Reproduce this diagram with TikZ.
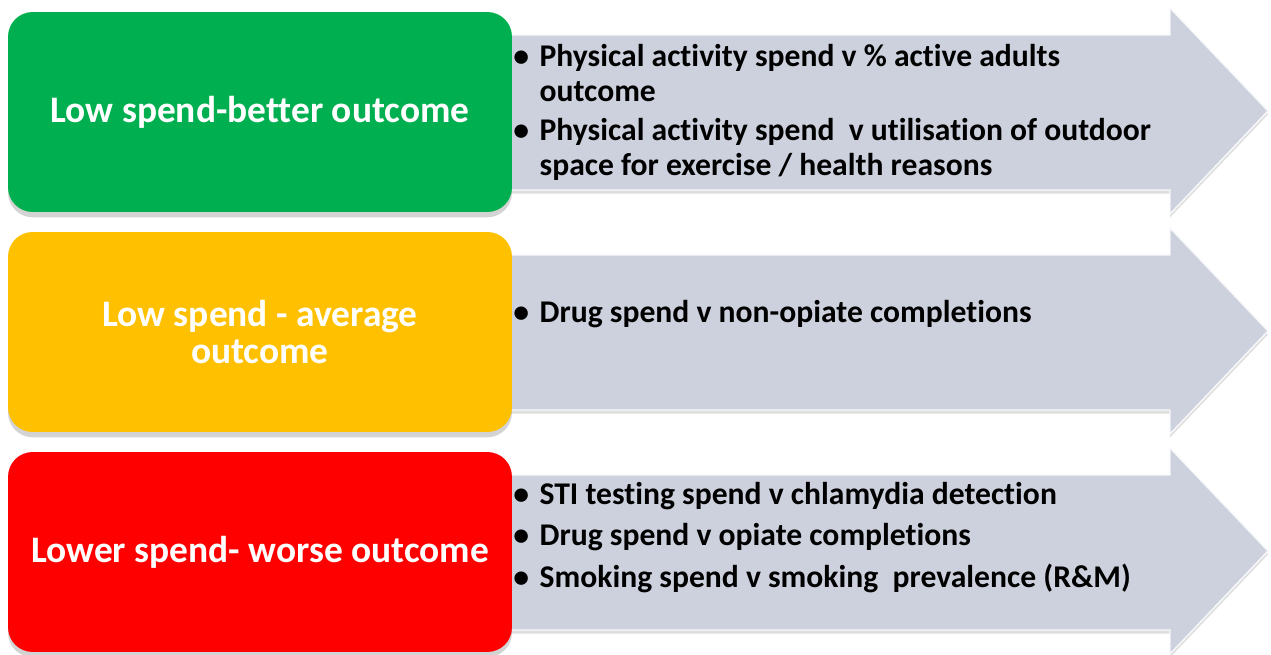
\documentclass[tikz,border=0pt]{standalone}
\usepackage{fontspec}
\setmainfont{Carlito}[Ligatures=NoCommon]
\usetikzlibrary{shadows}
\definecolor{boxgreen}{RGB}{0,176,80}
\definecolor{boxyellow}{RGB}{255,192,0}
\definecolor{boxred}{RGB}{255,0,0}
\definecolor{arrowgrey}{RGB}{204,209,221}
\begin{document}
\begin{tikzpicture}[x=0.02cm, y=-0.02cm,
	spendbox/.style = { rounded corners=14pt, minimum width=10.08cm, minimum height=4cm,
		text=white, align=center, font=\fontsize{21.3}{21.5}\selectfont\bfseries,
		drop shadow={shadow xshift=0pt, shadow yshift=-3pt, opacity=0.35} },
	bigarrow/.style = { fill=arrowgrey, draw=white!85!arrowgrey, line width=0.8pt,
		drop shadow={shadow xshift=0pt, shadow yshift=-2pt, opacity=0.25} },
	itemlist/.style = { anchor=west, align=left, inner sep=0pt,
		font=\fontsize{18}{19.8}\selectfont\bfseries }]
	\useasboundingbox (0,0) rectangle (1271,655);
	% grey arrows
	\path[bigarrow] (490,35) -- (1170,35) -- (1170,8) -- (1268,111) -- (1170,214) -- (1170,190) -- (490,190) -- cycle;
	\path[bigarrow] (490,255) -- (1170,255) -- (1170,228) -- (1268,331) -- (1170,434) -- (1170,410) -- (490,410) -- cycle;
	\path[bigarrow] (490,475) -- (1170,475) -- (1170,448) -- (1268,551) -- (1170,654) -- (1170,630) -- (490,630) -- cycle;
	% coloured boxes
	\node [spendbox, fill=boxgreen] (better) at (260,112) {Low spend-better outcome};
	\node [spendbox, fill=boxyellow] (average) at (260,332) {Low spend - average\\outcome};
	\node [spendbox, fill=boxred] (worse) at (260,552) {Lower spend- worse outcome};
	% lists
	\node [itemlist] (betterlist) at (513,114) {
		\begin{tabular}{@{}l@{\hskip 6pt}l@{}}
			\textbullet & Physical activity spend v \% active adults\\
			 & outcome\\[2.8pt]
			\textbullet & Physical activity spend\ \ v utilisation of outdoor\\
			 & space for exercise / health reasons
		\end{tabular} };
	\node [itemlist] (averagelist) at (513,316) {
		\begin{tabular}{@{}l@{\hskip 6pt}l@{}}
			\textbullet & Drug spend v non-opiate completions
		\end{tabular} };
	\node [itemlist] (worselist) at (513,539) {
		\begin{tabular}{@{}l@{\hskip 6pt}l@{}}
			\textbullet & STI testing spend v chlamydia detection\\[4pt]
			\textbullet & Drug spend v opiate completions\\[4pt]
			\textbullet & Smoking spend v smoking\ \ prevalence (R\&M)
		\end{tabular} };
\end{tikzpicture}
\end{document}
